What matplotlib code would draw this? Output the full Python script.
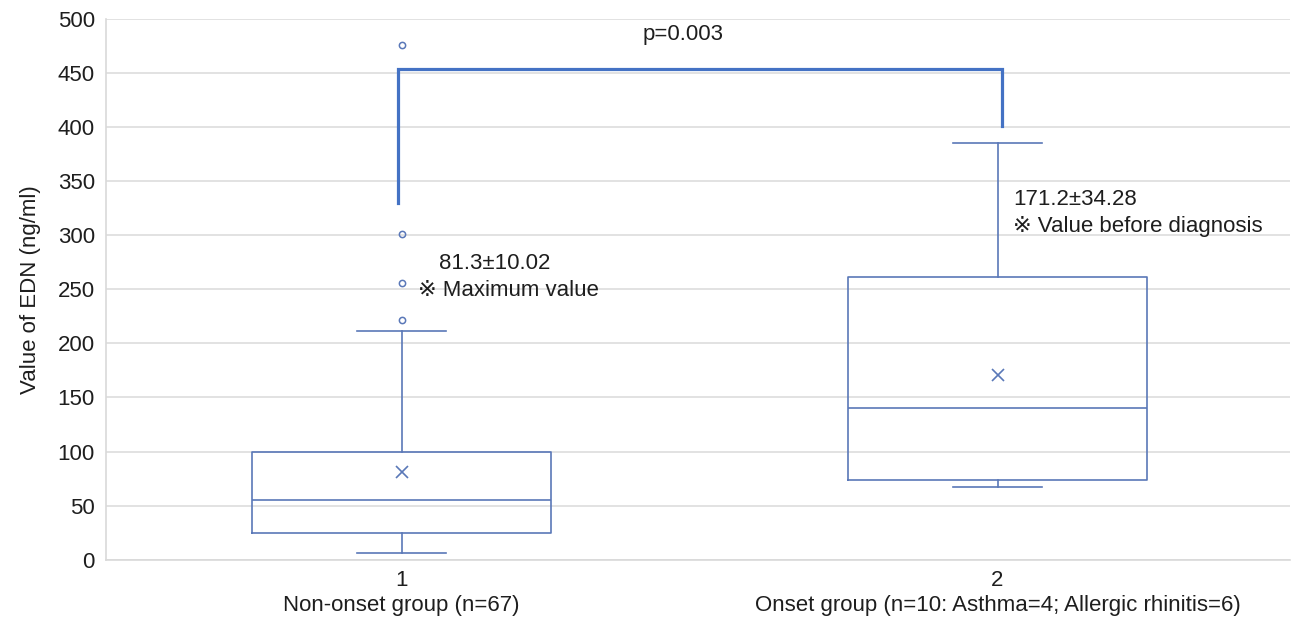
"""Box plot: EDN values in non-onset vs onset groups."""
import matplotlib
matplotlib.use("Agg")
import matplotlib.pyplot as plt

plt.rcParams["font.family"] = ["Liberation Sans", "DejaVu Sans"]

# data
positions = [1, 2]
tick_labels = ["1\nNon-onset group (n=67)",
               "2\nOnset group (n=10: Asthma=4; Allergic rhinitis=6)"]
whislo = [6.5, 67.5]
q1 = [25.0, 74.0]
med = [55.0, 140.5]
q3 = [100.0, 261.5]
whishi = [211.5, 385.5]
means = [81.3, 171.2]
fliers = [[222.0, 256.0, 301.0, 476.0], []]

bracket_x = [0.994, 2.008]
bracket_low = [330, 401]
bracket_top = 453
p_text = "p=0.003"
note_values = ["81.3\u00b110.02", "171.2\u00b134.28"]
note_labels = ["\u203b Maximum value", "\u203b Value before diagnosis"]

BOX = "#5a78b8"
BRACKET = "#4472c4"
TXT = "#1e1e1e"
FS = 16

fig = plt.figure(figsize=(12.93, 6.18), dpi=100)
ax = fig.add_axes([0.082, 0.094, 0.9157, 0.876])

stats = []
for i in range(len(positions)):
    stats.append(dict(whislo=whislo[i], q1=q1[i], med=med[i], q3=q3[i],
                      whishi=whishi[i], mean=means[i], fliers=fliers[i]))

line = dict(color=BOX, lw=1.2)
ax.bxp(stats, positions=positions, widths=0.502, capwidths=0.149,
       showmeans=True, meanline=False,
       boxprops=line, whiskerprops=line, capprops=line, medianprops=line,
       meanprops=dict(marker="x", markeredgecolor=BOX, markersize=8,
                      markeredgewidth=1.2),
       flierprops=dict(marker="o", markerfacecolor="none",
                       markeredgecolor=BOX, markersize=4.5,
                       markeredgewidth=1.1))

# significance bracket
ax.plot([bracket_x[0], bracket_x[0], bracket_x[1], bracket_x[1]],
        [bracket_low[0], bracket_top, bracket_top, bracket_low[1]],
        color=BRACKET, lw=2.3, solid_joinstyle="miter", zorder=3)
ax.text(1.472, 485, p_text, ha="center", va="center", fontsize=FS, color=TXT)

# annotations
ax.text(1.063, 274, note_values[0], ha="left", va="center", fontsize=FS, color=TXT)
ax.text(1.028, 249, note_labels[0], ha="left", va="center", fontsize=FS, color=TXT)
ax.text(2.026, 333, note_values[1], ha="left", va="center", fontsize=FS, color=TXT)
ax.text(2.026, 308, note_labels[1], ha="left", va="center", fontsize=FS, color=TXT)

ax.set_xlim(0.5042, 2.4908)
ax.set_ylim(0, 500)
ax.set_yticks(range(0, 501, 50))
ax.set_xticks(positions)
ax.set_xticklabels(tick_labels, fontsize=FS, color=TXT, linespacing=1.3)
ax.tick_params(axis="y", labelsize=FS, colors=TXT, length=0, pad=8)
ax.tick_params(axis="x", length=0, pad=7)
ax.set_ylabel("Value of EDN (ng/ml)", fontsize=FS, color=TXT, labelpad=12)

ax.grid(axis="y", color="#dddddd", lw=1.2)
ax.set_axisbelow(True)
for s in ["top", "right"]:
    ax.spines[s].set_visible(False)
for s in ["left", "bottom"]:
    ax.spines[s].set_color("#d9d9d9")
    ax.spines[s].set_linewidth(1.2)

fig.savefig("out.png", dpi=100)
